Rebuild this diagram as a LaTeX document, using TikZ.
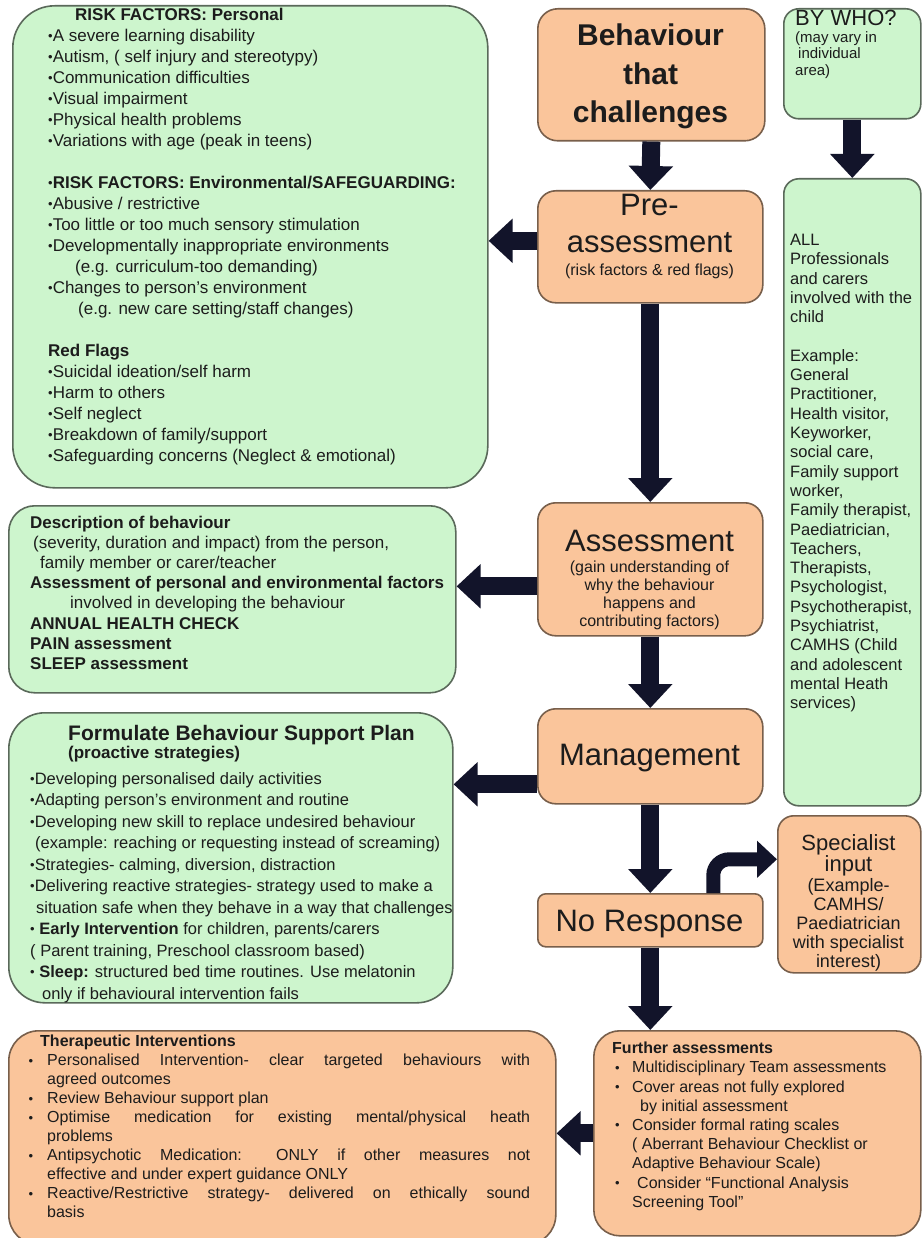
\documentclass[tikz,border=0pt]{standalone}
\usepackage{fontspec}
\usepackage{graphicx}
\setmainfont{Liberation Sans}
\usetikzlibrary{arrows.meta}
\definecolor{gfill}{RGB}{205,245,205}
\definecolor{gline}{RGB}{90,105,90}
\definecolor{ofill}{RGB}{250,197,155}
\definecolor{oline}{RGB}{120,95,75}
\definecolor{ink}{RGB}{28,28,28}
\definecolor{arrowc}{RGB}{18,20,42}
% small list bullet
\newcommand{\bu}{{\fontsize{13}{13}\selectfont\raisebox{0.8pt}{•}}}
\newcommand{\fb}{\makebox[17pt][l]{\bu}}
\newcommand{\titem}[1]{\par\noindent\llap{\bu\hspace{14pt}}#1\par}
\hbadness=10000
\begin{document}
\begin{tikzpicture}[x=1pt,y=-1pt,
  boxbase/.style={draw, line width=1.6pt, inner sep=0pt, anchor=north west},
  gbox/.style={boxbase, draw=gline, fill=gfill},
  obox/.style={boxbase, draw=oline, fill=ofill},
  txt/.style={inner sep=0pt, anchor=north west, align=left, text=ink},
  ctxt/.style={inner sep=0pt, align=center, text=ink},
  bigarrow/.style={draw=arrowc, line width=18pt, -{Triangle[width=43pt,length=24pt]}},
  bentarrow/.style={draw=arrowc, line width=14pt, -{Triangle[width=36pt,length=20pt]}, rounded corners=16pt}]
\useasboundingbox (0,0) rectangle (922,1238);
\fill[white] (0,0) rectangle (922,1238);
\clip (0,0) rectangle (922,1238);

% ---------- boxes ----------
\node[gbox, rounded corners=42pt, minimum width=475pt, minimum height=482pt] (risk) at (12,5) {};
\node[obox, rounded corners=20pt, minimum width=227pt, minimum height=132pt] (beh) at (537,8) {};
\node[gbox, rounded corners=15pt, minimum width=137pt, minimum height=110pt] (bywho) at (783,8) {};
\node[gbox, rounded corners=15pt, minimum width=137pt, minimum height=627pt] (all) at (783,178) {};
\node[obox, rounded corners=18pt, minimum width=225pt, minimum height=112pt] (pre) at (537,190) {};
\node[obox, rounded corners=18pt, minimum width=225pt, minimum height=133pt] (assess) at (537,502) {};
\node[gbox, rounded corners=26pt, minimum width=447pt, minimum height=187pt] (desc) at (8,505) {};
\node[obox, rounded corners=18pt, minimum width=225pt, minimum height=95pt] (mgmt) at (537,708) {};
\node[gbox, rounded corners=36pt, minimum width=444pt, minimum height=290pt] (form) at (8,712) {};
\node[obox, rounded corners=8pt, minimum width=225pt, minimum height=53pt] (nores) at (537,893) {};
\node[obox, rounded corners=16pt, minimum width=143pt, minimum height=157pt] (spec) at (777,815) {};
\node[obox, rounded corners=30pt, minimum width=547pt, minimum height=214pt] (therap) at (8,1030) {};
\node[obox, rounded corners=26pt, minimum width=327pt, minimum height=205pt] (further) at (593,1030) {};

% ---------- connectors ----------
\draw[bigarrow] (beh.south) -- (pre.north);
\draw[bigarrow] (bywho.south) -- (all.north);
\draw[bigarrow] ([yshift=6pt]pre.west) -- ([yshift=6pt]risk.east |- pre.west);
\draw[bigarrow] (pre.south) -- (assess.north);
\draw[bigarrow] ([yshift=-17pt]assess.west) -- ([yshift=-17pt]desc.east |- assess.west);
\draw[bigarrow] (assess.south) -- (mgmt.north);
\draw[bigarrow] ([yshift=-28pt]mgmt.west) -- ([yshift=-28pt]form.east |- mgmt.west);
\draw[bigarrow] (mgmt.south) -- (nores.north);
\draw[bentarrow] ([xshift=63pt]nores.north) |- ([yshift=35pt]spec.west);
\draw[bigarrow] (nores.south) -- (nores.south |- further.north);
\draw[bigarrow] (further.west) -- (therap.east |- further.west);

% ---------- orange step labels ----------
\node[ctxt, font=\bfseries\fontsize{30}{38.5}\selectfont, anchor=north] (behT) at (650.5,24) {Behaviour\\that\\challenges};
\node[ctxt, font=\fontsize{31}{37}\selectfont, anchor=north] (preT) at (649.5,194) {Pre-\\assessment};
\node[ctxt, font=\fontsize{16}{16}\selectfont, anchor=base] (preS) at (649.5,276) {(risk factors \& red flags)};
\node[ctxt, font=\fontsize{31}{31}\selectfont, anchor=base] (assT) at (649.5,551) {Assessment};
\node[ctxt, font=\fontsize{16}{18}\selectfont, anchor=north] (assS) at (649.5,561) {(gain understanding of\\why the behaviour\\happens and\\contributing factors)};
\node[ctxt, font=\fontsize{31}{31}\selectfont, anchor=base] (mgmtT) at (649.5,765) {Management};
\node[ctxt, font=\fontsize{31}{31}\selectfont, anchor=base] (noT) at (649.5,931) {No Response};
\node[ctxt, font=\fontsize{22}{22}\selectfont, anchor=base] (specA) at (848.5,850) {Specialist};
\node[ctxt, font=\fontsize{22}{22}\selectfont, anchor=base] (specB) at (848.5,871) {input};
\node[ctxt, font=\fontsize{18}{19}\selectfont, anchor=north] (specC) at (848.5,878) {(Example-\\CAMHS/\\Paediatrician\\with specialist\\interest)};

% ---------- who ----------
\node[txt, font=\fontsize{22}{22}\selectfont] (byA) at (795,10) {BY WHO?};
\node[txt, font=\fontsize{15}{16.5}\selectfont] (byB) at (795,31) {(may vary in\\\hspace*{3pt}individual\\area)};
\node[txt, font=\fontsize{16.5}{19.3}\selectfont] (allT) at (790,234) {ALL\\Professionals\\and carers\\involved with the\\child\\[19.3pt]Example:\\General\\Practitioner,\\Health visitor,\\Keyworker,\\social care,\\Family support\\worker,\\Family therapist,\\Paediatrician,\\Teachers,\\Therapists,\\Psychologist,\\Psychotherapist,\\Psychiatrist,\\CAMHS (Child\\and adolescent\\mental Heath\\services)};

% ---------- risk factors ----------
\node[txt, font=\fontsize{17}{21}\selectfont] (riskT) at (48,8) {%
\hspace*{27pt}\textbf{RISK FACTORS: Personal}\\
\bu A severe learning disability\\
\bu Autism, ( self injury and stereotypy)\\
\bu Communication difficulties\\
\bu Visual impairment\\
\bu Physical health problems\\
\bu Variations with age (peak in teens)\\[21pt]
\bu\textbf{RISK FACTORS: Environmental/SAFEGUARDING:}\\
\bu Abusive / restrictive\\
\bu Too little or too much sensory stimulation\\
\bu Developmentally inappropriate environments\\
\hspace*{27pt}(e.g. curriculum-too demanding)\\
\bu Changes to person’s environment\\
\hspace*{30pt}(e.g. new care setting/staff changes)\\[21pt]
\textbf{Red Flags}\\
\bu Suicidal ideation/self harm\\
\bu Harm to others\\
\bu Self neglect\\
\bu Breakdown of family/support\\
\bu Safeguarding concerns (Neglect \& emotional)};

% ---------- assessment detail ----------
\node[txt, font=\fontsize{17}{20.1}\selectfont] (descT) at (30,516) {%
\textbf{Description of behaviour}\\
\hspace*{3pt}(severity, duration and impact) from the person,\\
\hspace*{10pt}family member or carer/teacher\\
\textbf{Assessment of personal and environmental factors}\\
\hspace*{40pt}involved in developing the behaviour\\
\textbf{ANNUAL HEALTH CHECK}\\
\textbf{PAIN assessment}\\
\textbf{SLEEP assessment}};

% ---------- support plan ----------
\node[txt, font=\bfseries\fontsize{21}{21}\selectfont] (formH) at (68,725) {Formulate Behaviour Support Plan};
\node[txt, font=\bfseries\fontsize{17}{17}\selectfont] (formS) at (68,746) {(proactive strategies)};
\node[txt, font=\fontsize{16.5}{21.5}\selectfont] (formT) at (30,772) {%
\bu Developing personalised daily activities\\
\bu Adapting person’s environment and routine\\
\bu Developing new skill to replace undesired behaviour\\
\hspace*{5pt}(example: reaching or requesting instead of screaming)\\
\bu Strategies- calming, diversion, distraction\\
\bu Delivering reactive strategies- strategy used to make a\\
\hspace*{6pt}situation safe when they behave in a way that challenges\\
\bu\ \textbf{Early Intervention} for children, parents/carers\\
( Parent training, Preschool classroom based)\\
\bu\ \textbf{Sleep:} structured bed time routines. Use melatonin\\
\hspace*{12pt}only if behavioural intervention fails};

% ---------- therapeutic interventions ----------
\node[txt, font=\bfseries\fontsize{16}{16}\selectfont] (therH) at (40,1035) {Therapeutic Interventions};
\node[txt] (therT) at (25,1054) {\begin{minipage}[t]{505pt}\fontsize{16}{19}\selectfont
\leftskip=22pt\parindent=0pt\hyphenpenalty=10000
\titem{Personalised Intervention- clear targeted behaviours with\linebreak agreed outcomes}
\titem{Review Behaviour support plan}
\titem{Optimise medication for existing mental/physical heath\linebreak problems}
\titem{Antipsychotic Medication: ONLY if other measures not\linebreak effective and under expert guidance ONLY}
\titem{Reactive/Restrictive strategy- delivered on ethically sound\linebreak basis}
\end{minipage}};

% ---------- further assessments ----------
\node[txt, font=\bfseries\fontsize{16}{16}\selectfont] (furH) at (612,1042) {Further assessments};
\node[txt, font=\fontsize{16}{19.2}\selectfont] (furT) at (615,1061) {%
\fb Multidisciplinary Team assessments\\
\fb Cover areas not fully explored\\
\hspace*{25pt}by initial assessment\\
\fb Consider formal rating scales\\
\hspace*{17pt}( Aberrant Behaviour Checklist or\\
\hspace*{17pt}Adaptive Behaviour Scale)\\
\fb\hspace*{5pt}Consider “Functional Analysis\\
\hspace*{17pt}Screening Tool”};
\end{tikzpicture}
\end{document}
